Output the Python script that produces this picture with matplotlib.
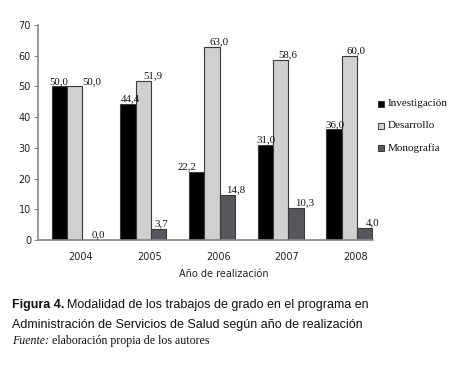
import matplotlib
matplotlib.use("Agg")
import matplotlib.pyplot as plt
import numpy as np

years = ["2004", "2005", "2006", "2007", "2008"]
series_names = ["Investigación", "Desarrollo", "Monografía"]
investigacion = [50.0, 44.4, 22.2, 31.0, 36.0]
desarrollo = [50.0, 51.9, 63.0, 58.6, 60.0]
monografia = [0.0, 3.7, 14.8, 10.3, 4.0]
yticks = [0, 10, 20, 30, 40, 50, 60, 70]

colors = ["#000000", "#d0d0d0", "#58575e"]
series = [investigacion, desarrollo, monografia]

fig = plt.figure(figsize=(4.76, 3.84), dpi=100)
W, H = 476, 384
ax = fig.add_axes([38 / W, (H - 240) / H, (373 - 38) / W, (240 - 25) / H])

x = np.arange(len(years))
bw = 0.223
offs = [-bw, 0, bw]
# label nudges in px (horizontal) per series, with some per-point adjustments
lab_dx = [[0, 3, -10, 1, 1],
          [17, 10, 7.5, 7.5, 7],
          [9, 3, 8, 8.5, 8.5]]
px = 68.7  # px per unit
for s, (vals, c) in enumerate(zip(series, colors)):
    ax.bar(x + offs[s], vals, width=bw, color=c, edgecolor="#3a3a3a",
           linewidth=0.8, label=series_names[s], zorder=2)
    for i, v in enumerate(vals):
        ax.text(x[i] + offs[s] + lab_dx[s][i] / px, v + 0.2,
                f"{v:.1f}".replace(".", ","), ha="center", va="bottom",
                fontsize=7.8, family="Liberation Serif", color="#111111")

ax.set_xlim(-0.531, 4.345)
ax.set_ylim(0, 70)
ax.set_yticks(yticks)
ax.set_yticklabels([str(t) for t in yticks], fontsize=7, family="DejaVu Sans", color="#222222")
ax.set_xticks(x + 0.09)
ax.set_xticklabels(years, fontsize=7, family="DejaVu Sans", color="#222222")
ax.tick_params(axis="x", length=0, pad=9)
ax.tick_params(axis="y", length=3, color="#888888", width=0.8, pad=2)
for sp in ["top", "right"]:
    ax.spines[sp].set_visible(False)
for sp in ["left", "bottom"]:
    ax.spines[sp].set_color("#888888")
    ax.spines[sp].set_linewidth(1.2)

fig.text(224 / W, 1 - 274 / H, "Año de realización", ha="center", va="center",
         fontsize=7, family="DejaVu Sans", color="#222222")

# legend
for k, (name, c) in enumerate(zip(series_names, colors)):
    yy = 1 - (104 + k * 22) / H
    fig.patches.append(plt.Rectangle((378 / W, yy - 3 / H), 6 / W, 6 / H,
                                     transform=fig.transFigure, facecolor=c,
                                     edgecolor="#222222", linewidth=0.6))
    fig.text(388 / W, yy, name, ha="left", va="center", fontsize=8,
             family="Liberation Serif", color="#111111")

# caption
renderer = fig.canvas.get_renderer()
t1 = fig.text(12 / W, 1 - 305 / H, "Figura 4.", ha="left", va="center",
              fontsize=9, family="Liberation Sans", weight="bold", color="#111111")
bb = t1.get_window_extent(renderer)
fig.text(bb.x1 / W + 3 / W, 1 - 305 / H,
         "Modalidad de los trabajos de grado en el programa en",
         ha="left", va="center", fontsize=9, family="Liberation Sans", color="#111111")
fig.text(12 / W, 1 - 325 / H,
         "Administración de Servicios de Salud según año de realización",
         ha="left", va="center", fontsize=9, family="Liberation Sans", color="#111111")
t3 = fig.text(12 / W, 1 - 341 / H, "Fuente:", ha="left", va="center",
              fontsize=8.6, family="Liberation Serif", style="italic", color="#111111")
bb3 = t3.get_window_extent(renderer)
fig.text(bb3.x1 / W + 3 / W, 1 - 341 / H, "elaboración propia de los autores",
         ha="left", va="center", fontsize=8.6, family="Liberation Serif", color="#111111")

fig.savefig("out.png", dpi=100)
